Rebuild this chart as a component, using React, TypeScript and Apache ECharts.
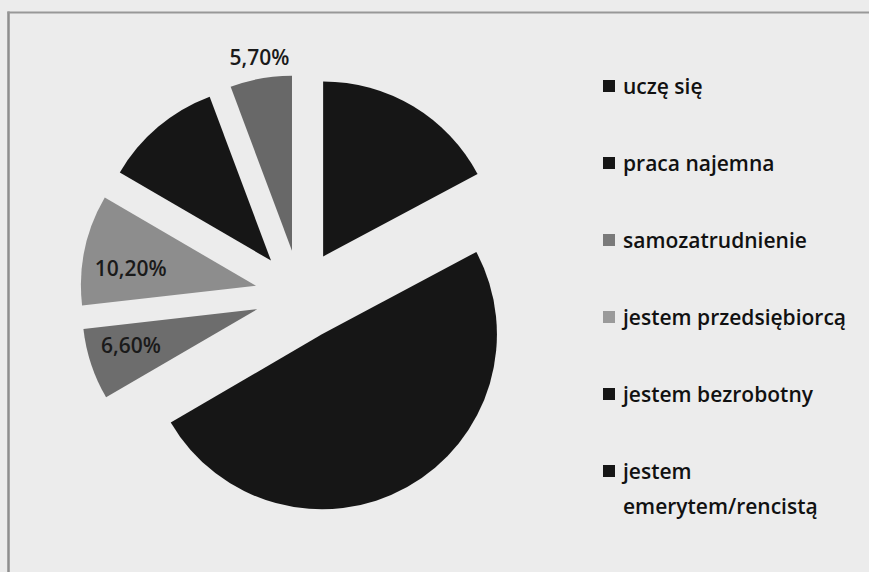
import React, { useEffect, useRef } from 'react';
import * as echarts from 'echarts';

const categories = [
  'uczę się',
  'praca najemna',
  'samozatrudnienie',
  'jestem przedsiębiorcą',
  'jestem bezrobotny',
  'jestem emerytem/rencistą',
];
const values = [17.2, 49.4, 6.6, 10.2, 10.9, 5.7];
// legend text; a leading blank line keeps the first text line level with the marker
const legendLabels = [
  '\nuczę się\n',
  '\npraca najemna\n',
  '\nsamozatrudnienie\n',
  '\njestem przedsiębiorcą\n',
  '\njestem bezrobotny\n',
  '\njestem\nemerytem/rencistą',
];
const sliceColors = ['#161616', '#161616', '#6d6d6d', '#8d8d8d', '#161616', '#686868'];
const legendColors = ['#161616', '#161616', '#7a7a7a', '#9a9a9a', '#161616', '#161616'];
const innerLabelShown = [false, false, true, true, false, false];
const outerLabelShown = [false, false, false, false, false, true];
const labelNudge = [
  [0, 0],
  [0, 0],
  [-2, -5],
  [3, 9],
  [0, 0],
  [3, 3],
];

const fmt = (v: number) => v.toFixed(2).replace('.', ',') + '%';
const FONT = '"Open Sans", "Liberation Sans", sans-serif';

export default function App() {
  const ref = useRef<HTMLDivElement>(null);
  useEffect(() => {
    if (!ref.current) return;
    const chart = echarts.init(ref.current, undefined, { renderer: 'svg' });
    const center = [300, 295];
    const common = {
      type: 'pie' as const,
      center,
      startAngle: 90,
      clockwise: true,
      selectedMode: 'multiple' as const,
      selectedOffset: 45,
      avoidLabelOverlap: false,
      emphasis: { disabled: true },
      labelLine: { show: false },
    };
    const labelStyle = {
      fontFamily: FONT,
      fontSize: 21,
      fontWeight: 600,
      color: '#1a1a1a',
    };
    const nudge = (p: any) => ({ dx: labelNudge[p.dataIndex][0], dy: labelNudge[p.dataIndex][1] });
    chart.setOption({
      animation: false,
      backgroundColor: '#ececec',
      graphic: [
        {
          type: 'line',
          shape: { x1: 8.5, y1: 11.5, x2: 8.5, y2: 572 },
          style: { stroke: '#8e8e8e', lineWidth: 2.5 },
          silent: true,
        },
        {
          type: 'line',
          shape: { x1: 7.5, y1: 12.5, x2: 869, y2: 12.5 },
          style: { stroke: '#989898', lineWidth: 2 },
          silent: true,
        },
      ],
      legend: {
        orient: 'vertical',
        left: 603,
        top: 33.5,
        padding: 0,
        itemGap: -28,
        itemWidth: 12,
        itemHeight: 12,
        icon: 'rect',
        selectedMode: false,
        textStyle: {
          fontFamily: FONT,
          fontSize: 21,
          fontWeight: 600,
          color: '#111111',
          lineHeight: 35,
          padding: [0, 0, 0, 3],
        },
        formatter: (name: string) => legendLabels[categories.indexOf(name)],
        data: categories.map((n, i) => ({
          name: n,
          itemStyle: { color: legendColors[i] },
        })),
      },
      series: [
        {
          ...common,
          name: 'main',
          radius: 175,
          label: { show: false },
          select: { itemStyle: { borderWidth: 0 }, label: { show: false } },
          data: categories.map((n, i) => ({
            name: n,
            value: values[i],
            selected: true,
            itemStyle: { color: sliceColors[i], borderWidth: 0 },
          })),
        },
        {
          ...common,
          name: 'labelsInner',
          radius: [81, 175],
          silent: true,
          z: 3,
          labelLayout: nudge,
          select: { itemStyle: { color: 'rgba(0,0,0,0)', borderWidth: 0 } },
          data: categories.map((n, i) => ({
            name: n,
            value: values[i],
            selected: true,
            itemStyle: { color: 'rgba(0,0,0,0)', borderWidth: 0 },
            label: {
              show: innerLabelShown[i],
              position: 'inside',
              formatter: fmt(values[i]),
              ...labelStyle,
            },
            select: { label: { show: innerLabelShown[i], ...labelStyle } },
          })),
        },
        {
          ...common,
          name: 'labelsOuter',
          radius: [190, 204],
          silent: true,
          z: 3,
          labelLayout: nudge,
          select: { itemStyle: { color: 'rgba(0,0,0,0)', borderWidth: 0 } },
          data: categories.map((n, i) => ({
            name: n,
            value: values[i],
            selected: true,
            itemStyle: { color: 'rgba(0,0,0,0)', borderWidth: 0 },
            label: {
              show: outerLabelShown[i],
              position: 'inside',
              formatter: fmt(values[i]),
              ...labelStyle,
            },
            select: { label: { show: outerLabelShown[i], ...labelStyle } },
          })),
        },
      ],
    });
    return () => chart.dispose();
  }, []);
  return (
    <div
      ref={ref}
      style={{ position: 'fixed', left: 0, top: 0, width: 869, height: 572, background: '#ececec' }}
    />
  );
}
